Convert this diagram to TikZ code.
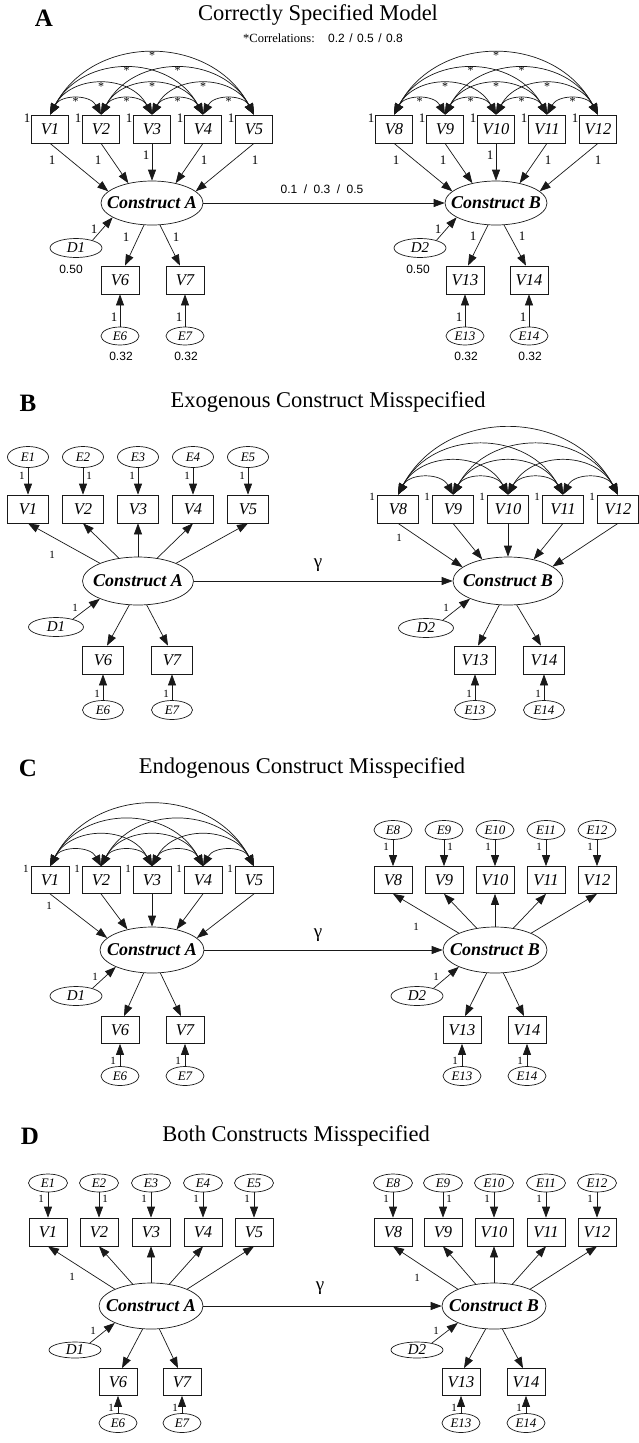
\documentclass[tikz,border=0pt]{standalone}
\usepackage{fontspec}
\setmainfont{Liberation Serif}
\newfontfamily\arialf{Liberation Sans}
\usetikzlibrary{arrows.meta,shapes.geometric}
\newcounter{lc}
\newcommand{\one}[2][one]{\stepcounter{lc}\node[#1] (lab\thelc) at (#2) {1};}
\newcommand{\covarcs}[2]{\foreach \i/\j in #2 {\draw[dbl] (#1\i.north) to[out=62,in=118,looseness=1.16] node[star] (st-#1-\i-\j) {*} (#1\j.north);}}
\newcommand{\covarc}[2]{\foreach \i/\j in #2 {\draw[dbl] (#1\i.north) to[out=62,in=118,looseness=1.16] (#1\j.north);}}
\newcommand{\LP}{1/2,2/3,3/4,4/5,1/3,2/4,3/5,1/4,2/5,1/5}
\newcommand{\RP}{8/9,9/10,10/11,11/12,8/10,9/11,10/12,8/11,9/12,8/12}
\tikzset{
  lw/.style={line width=0.7pt, draw=black!90},
  arr/.style={lw, -{Triangle[length=11pt,width=8pt]}},
  dbl/.style={lw, {Triangle[length=11pt,width=9pt]}-{Triangle[length=11pt,width=9pt]}},
  obs/.style={lw, rectangle, minimum width=38pt, minimum height=28pt, inner sep=0pt, font=\fontsize{16.5}{16.5}\selectfont\itshape},
  lat/.style={lw, ellipse, minimum width=104pt, minimum height=46pt, inner sep=0pt, font=\fontsize{18}{18}\selectfont\bfseries\itshape},
  err/.style={lw, ellipse, minimum width=39pt, minimum height=19pt, inner sep=0pt, font=\fontsize{13}{13}\selectfont\itshape},
  dis/.style={lw, ellipse, minimum width=52pt, minimum height=19pt, inner sep=0pt, font=\fontsize{15}{15}\selectfont\itshape},
  one/.style={font=\fontsize{11}{11}\selectfont, inner sep=0pt},
  oneA/.style={font=\fontsize{13}{13}\selectfont, inner sep=0pt},
  num/.style={font=\arialf\fontsize{12}{12}\selectfont, inner sep=0pt},
  ttl/.style={font=\fontsize{22.5}{22.5}\selectfont, inner sep=0pt},
  pl/.style={font=\fontsize{25}{25}\selectfont\bfseries, inner sep=0pt},
  star/.style={font=\fontsize{12}{12}\selectfont, inner sep=0pt, yshift=-2pt},
  gam/.style={font=\fontsize{19}{19}\selectfont, inner sep=0pt},
}
\begin{document}
\begin{tikzpicture}[x=1pt,y=1pt]
\useasboundingbox (0,0) rectangle (639,-1443);
\fill[white] (0,0) rectangle (639,-1443);

%================ PANEL A =================
\node[pl] (pA) at (44,-18) {A};
\node[ttl] (tA) at (318,-15) {Correctly Specified Model};
\node[font=\fontsize{12.5}{12.5}\selectfont, anchor=west, inner sep=0pt] (corr) at (243,-38) {*Correlations:};
\node[num, anchor=west] (corrv) at (328,-38) {0.2\hspace{4.5pt}/\hspace{4.5pt}0.5\hspace{4.5pt}/\hspace{4.5pt}0.8};
\foreach \n/\x in {1/50,2/101,3/152,4/203,5/254,8/394,9/445,10/496,11/547,12/598}{
  \node[obs, minimum width=37pt] (aV\n) at (\x,-129) {V\n};
  \one[oneA]{\x-23,-118}
}
\covarcs{aV}{\LP}
\covarcs{aV}{\RP}
\node[lat, minimum width=102pt, minimum height=44pt] (aA) at (152,-203) {\makebox[0pt]{Construct A}};
\node[lat, minimum width=102pt, minimum height=44pt] (aB) at (496,-203) {\makebox[0pt]{Construct B}};
\foreach \n/\a in {1/165,2/140,3/90,4/40,5/15}{\draw[arr] (aV\n.south) -- (aA.\a);}
\foreach \n/\a in {8/165,9/140,10/90,11/40,12/15}{\draw[arr] (aV\n.south) -- (aB.\a);}
\foreach \x/\y in {52/160,98/160,146/155,204/160,255/160,396/160,443/160,490/155,548/160,598/160}{\one[oneA]{\x,-\y}}
\draw[arr] (aA.east) -- (aB.west);
\node[num] (gA) at (322,-189) {0.1\hspace{6.5pt}/\hspace{6.5pt}0.3\hspace{6.5pt}/\hspace{6.5pt}0.5};
% lower left
\node[dis] (aD1) at (76,-248) {D1};
\node[dis] (aD2) at (420,-248) {D2};
\draw[arr] (aD1.25) -- (aA.200);
\draw[arr] (aD2.25) -- (aB.200);
\one[oneA]{94,-229} \one[oneA]{438,-229}
\node[num] (aR1) at (71,-269) {0.50};
\node[num] (aR2) at (418,-269) {0.50};
\node[obs] (aV6) at (120,-280) {V6};
\node[obs] (aV7) at (185,-280) {V7};
\node[obs] (aV13) at (465,-280) {V13};
\node[obs] (aV14) at (529,-280) {V14};
\draw[arr] (aA.250) -- ([xshift=5pt]aV6.north);
\draw[arr] (aA.290) -- ([xshift=-5pt]aV7.north);
\draw[arr] (aB.250) -- ([xshift=3pt]aV13.north);
\draw[arr] (aB.290) -- ([xshift=-3pt]aV14.north);
\one[oneA]{126,-237} \one[oneA]{176,-237} \one[oneA]{473,-236} \one[oneA]{522,-236}
\foreach \n/\x in {6/120,7/185,13/465,14/529}{
  \node[err, minimum width=38pt, minimum height=18pt] (aE\n) at (\x,-336) {E\n};
  \draw[arr] (aE\n) -- (aV\n);
  \one[oneA]{\x-6,-317}
  \node[num] (aS\n) at (\x+1,-356) {0.32};
}

%================ PANEL B =================
\node[pl] (pB) at (28,-403) {B};
\node[ttl] (tB) at (328,-402) {Exogenous Construct Misspecified};
\foreach \n/\x/\s in {1/28/-6,2/83/6,3/138/-6,4/193/-6,5/248/-6}{
  \node[obs, minimum width=41pt] (bV\n) at (\x,-509) {V\n};
  \node[err, minimum width=41pt, minimum height=21pt] (bE\n) at (\x,-457) {E\n};
  \draw[arr] (bE\n) -- (bV\n);
  \one{\x+\s,-476}
}
\foreach \n/\x in {8/398,9/453,10/508,11/563,12/618}{
  \node[obs, minimum width=41pt] (bV\n) at (\x,-509) {V\n};
  \one{\x-26,-497}
}
\covarc{bV}{\RP}
\node[lat, minimum width=111pt, minimum height=48pt] (bA) at (138,-581) {\makebox[0pt]{Construct A}};
\node[lat, minimum width=110pt, minimum height=48pt] (bB) at (508,-581) {\makebox[0pt]{Construct B}};
\foreach \n/\a in {1/155,2/130,3/90,4/50,5/25}{\draw[arr] (bA.\a) -- (bV\n.south);}
\foreach \n/\a in {8/163,9/140,10/90,11/40,12/18}{\draw[arr] (bV\n.south) -- (bB.\a);}
\one{52,-555} \one{399,-538}
\draw[arr] (bA.east) -- (bB.west);
\node[gam] (gB) at (318,-565) {γ};
\node[dis, minimum width=55pt] (bD1) at (56,-627) {D1};
\node[dis, minimum width=55pt] (bD2) at (426,-628) {D2};
\draw[arr] (bD1.25) -- (bA.205);
\draw[arr] (bD2.25) -- (bB.205);
\one{75,-608} \one{446,-608}
\foreach \n/\x in {6/103,7/172,13/475,14/544}{
  \node[obs, minimum width=41pt] (bV\n) at (\x,-660) {V\n};
  \node[err, minimum width=41pt] (bE\n) at (\x,-710) {E\n};
  \draw[arr] (bE\n) -- (bV\n);
  \one{\x-6,-694}
}
\draw[arr] (bA.250) -- ([xshift=4pt]bV6.north);
\draw[arr] (bA.290) -- ([xshift=-4pt]bV7.north);
\draw[arr] (bB.250) -- ([xshift=3pt]bV13.north);
\draw[arr] (bB.290) -- ([xshift=-3pt]bV14.north);

%================ PANEL C =================
\node[pl] (pC) at (28,-768) {C};
\node[ttl] (tC) at (302,-768) {Endogenous Construct Misspecified};
\foreach \n/\x in {1/50,2/101,3/152,4/203,5/254}{
  \node[obs, minimum width=38pt, minimum height=27pt] (cV\n) at (\x,-880) {V\n};
  \one{\x-24,-869}
}
\covarc{cV}{\LP}
\foreach \n/\x/\s in {8/393/-7,9/444/6,10/495/-7,11/546/-7,12/597/-7}{
  \node[obs, minimum width=38pt, minimum height=27pt] (cV\n) at (\x,-880) {V\n};
  \node[err, minimum width=38pt] (cE\n) at (\x,-830) {E\n};
  \draw[arr] (cE\n) -- (cV\n);
  \one{\x+\s,-847}
}
\node[lat] (cA) at (152,-950) {\makebox[0pt]{Construct A}};
\node[lat] (cB) at (495,-950) {\makebox[0pt]{Construct B}};
\foreach \n/\a in {1/165,2/140,3/90,4/40,5/15}{\draw[arr] (cV\n.south) -- (cA.\a);}
\foreach \n/\a in {8/155,9/130,10/90,11/50,12/25}{\draw[arr] (cB.\a) -- (cV\n.south);}
\one{49,-906} \one{416,-927}
\draw[arr] (cA.east) -- (cB.west);
\node[gam] (gC) at (318,-935) {γ};
\node[dis] (cD1) at (76,-996) {D1};
\node[dis] (cD2) at (417,-996) {D2};
\draw[arr] (cD1.25) -- (cA.205);
\draw[arr] (cD2.25) -- (cB.205);
\one{95,-977} \one{436,-977}
\foreach \n/\x in {6/120,7/185,13/462,14/527}{
  \node[obs, minimum width=38pt, minimum height=27pt] (cV\n) at (\x,-1030) {V\n};
  \node[err, minimum width=38pt] (cE\n) at (\x,-1076) {E\n};
  \draw[arr] (cE\n) -- (cV\n);
  \one{\x-7,-1061}
}
\draw[arr] (cA.250) -- ([xshift=4pt]cV6.north);
\draw[arr] (cA.290) -- ([xshift=-4pt]cV7.north);
\draw[arr] (cB.250) -- ([xshift=3pt]cV13.north);
\draw[arr] (cB.290) -- ([xshift=-3pt]cV14.north);

%================ PANEL D =================
\node[pl] (pD) at (30,-1136) {D};
\node[ttl] (tD) at (296,-1136) {Both Constructs Misspecified};
\foreach \n/\x/\s in {1/48/-7,2/99/6,3/151/-7,4/203/-7,5/254/-7,8/393/-7,9/443/6,10/494/-7,11/546/-7,12/597/-7}{
  \node[obs, minimum width=38pt, minimum height=28pt] (dV\n) at (\x,-1232) {V\n};
  \node[err, minimum width=39pt, minimum height=18pt] (dE\n) at (\x,-1183) {E\n};
  \draw[arr] (dE\n) -- (dV\n);
  \one{\x+\s,-1199}
}
\node[lat] (dA) at (151,-1306) {\makebox[0pt]{Construct A}};
\node[lat] (dB) at (494,-1306) {\makebox[0pt]{Construct B}};
\foreach \n/\a in {1/155,2/130,3/90,4/50,5/25}{\draw[arr] (dA.\a) -- (dV\n.south);}
\foreach \n/\a in {8/155,9/130,10/90,11/50,12/25}{\draw[arr] (dB.\a) -- (dV\n.south);}
\one{72,-1277} \one{417,-1278}
\draw[arr] (dA.east) -- (dB.west);
\node[gam] (gD) at (320,-1288) {γ};
\node[dis, minimum height=16pt] (dD1) at (75,-1350) {D1};
\node[dis, minimum height=16pt] (dD2) at (417,-1350) {D2};
\draw[arr] (dD1.25) -- (dA.205);
\draw[arr] (dD2.25) -- (dB.205);
\one{93,-1331} \one{436,-1331}
\foreach \n/\x in {6/118,7/182,13/461,14/526}{
  \node[obs, minimum width=38pt, minimum height=27pt] (dV\n) at (\x,-1382) {V\n};
  \node[err, minimum width=38pt, minimum height=19pt] (dE\n) at (\x,-1423) {E\n};
  \draw[arr] (dE\n) -- (dV\n);
  \one{\x-7,-1408}
}
\draw[arr] (dA.250) -- ([xshift=4pt]dV6.north);
\draw[arr] (dA.290) -- ([xshift=-4pt]dV7.north);
\draw[arr] (dB.250) -- ([xshift=3pt]dV13.north);
\draw[arr] (dB.290) -- ([xshift=-3pt]dV14.north);
\end{tikzpicture}
\end{document}
